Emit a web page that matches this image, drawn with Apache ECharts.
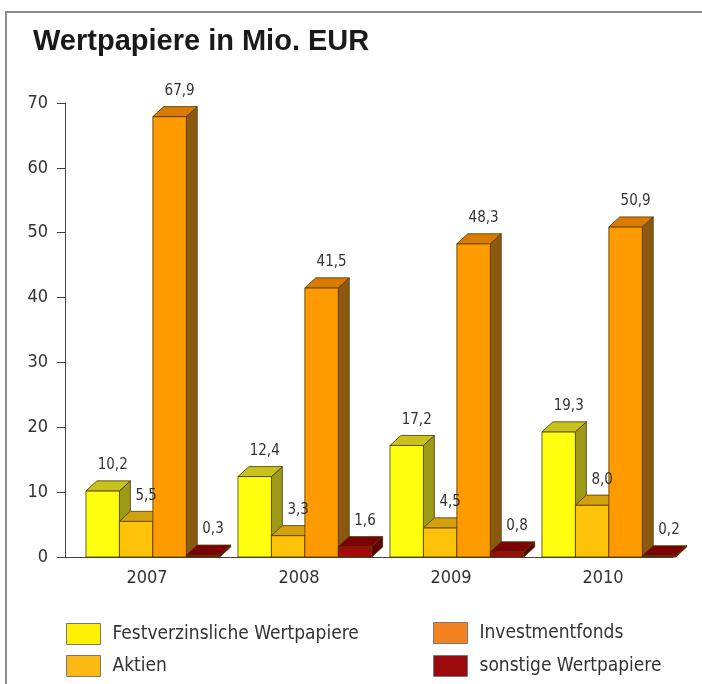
<!DOCTYPE html>
<html>
<head>
<meta charset="utf-8">
<script src="https://cdn.jsdelivr.net/npm/echarts@6/dist/echarts.min.js"></script>
<style>
  html, body { margin: 0; padding: 0; background: #fff; }
  #main { width: 702px; height: 684px; }
</style>
</head>
<body>
<div id="main"></div>
<script>
var years = ['2007', '2008', '2009', '2010']
var festverzinslich = [10.2, 12.4, 17.2, 19.3]
var aktien = [5.5, 3.3, 4.5, 8.0]
var investmentfonds = [67.9, 41.5, 48.3, 50.9]
var sonstige = [0.3, 1.6, 0.8, 0.2]
var yTicks = [0, 10, 20, 30, 40, 50, 60, 70]

var NARROW = "'Liberation Sans Narrow', 'DejaVu Sans Condensed', sans-serif"

// front / top / side colours per series
var faces = [
  { front: '#ffff10', top: '#c9c21c', side: '#9d9a1a', legend: '#fff200' },
  { front: '#ffc20a', top: '#d4a00c', side: '#a8800c', legend: '#fdb913' },
  { front: '#ff9a00', top: '#d97b00', side: '#8d5810', legend: '#f58220' },
  { front: '#a50808', top: '#7a0202', side: '#5a0000', legend: '#9d0a0e' }
]

function fmt(v) {
  return v.toFixed(1).replace('.', ',')
}

function makeRender(idx) {
  return function (params, api) {
    var cat = api.value(0)
    var val = api.value(1)
    var top = api.coord([cat, val])
    var base = api.coord([cat, 0])
    var band = api.size([1, 0])[0]
    var w = band * 0.22
    var dx = band * 0.072
    var dy = 10
    var x = top[0] - band * 0.362 + idx * w
    var y1 = top[1]
    var y0 = base[1]
    var f = faces[idx]
    var stroke = { stroke: '#4a3a00', lineWidth: 0.8 }
    return {
      type: 'group',
      children: [
        {
          type: 'polygon',
          shape: { points: [[x + w, y1], [x + w + dx, y1 - dy], [x + w + dx, y0 - dy], [x + w, y0]] },
          style: Object.assign({ fill: f.side }, stroke)
        },
        {
          type: 'rect',
          shape: { x: x, y: y1, width: w, height: y0 - y1 },
          style: Object.assign({ fill: f.front }, stroke)
        },
        {
          type: 'polygon',
          shape: { points: [[x, y1], [x + dx, y1 - dy], [x + w + dx, y1 - dy], [x + w, y1]] },
          style: Object.assign({ fill: f.top }, stroke)
        },
        {
          type: 'text',
          z2: 100,
          style: {
            text: fmt(val),
            x: x + w / 2 + 10,
            y: y1 - dy - 8,
            align: 'center',
            verticalAlign: 'bottom',
            fill: '#333',
            fontSize: 15,
            fontFamily: NARROW
          }
        }
      ]
    }
  }
}

function toData(arr) {
  return arr.map(function (v, i) { return [i, v] })
}

var names = ['Festverzinsliche Wertpapiere', 'Aktien', 'Investmentfonds', 'sonstige Wertpapiere']
var values = [festverzinslich, aktien, investmentfonds, sonstige]
var legendPos = [[66, 623], [66, 655], [433, 622], [433, 655]]

function legendItem(i) {
  return {
    left: legendPos[i][0],
    top: legendPos[i][1],
    padding: 0,
    icon: 'rect',
    itemWidth: 34,
    itemHeight: 21,
    data: [names[i]],
    itemStyle: { borderColor: '#777', borderWidth: 1 },
    textStyle: { fontFamily: NARROW, fontSize: 19, color: '#333', padding: [0, 0, 0, 7] }
  }
}

var chart = echarts.init(document.getElementById('main'))
chart.setOption({
  backgroundColor: '#fff',
  animation: false,
  title: {
    text: 'Wertpapiere in Mio. EUR',
    left: 28,
    top: 22,
    textStyle: {
      fontFamily: "'Liberation Sans', Arial, sans-serif",
      fontWeight: 'bold',
      fontSize: 29,
      color: '#1a1a1a'
    }
  },
  graphic: [{
    type: 'rect',
    shape: { x: 6, y: 12, width: 760, height: 720 },
    style: { fill: 'none', stroke: '#8c8c8c', lineWidth: 2 },
    silent: true
  }],
  legend: [legendItem(0), legendItem(1), legendItem(2), legendItem(3)],
  grid: {
    left: 65,
    top: 103,
    width: 608,
    height: 454,
    containLabel: false
  },
  xAxis: {
    type: 'category',
    data: years,
    axisLine: { lineStyle: { color: '#444', width: 1 } },
    axisTick: { show: false },
    axisLabel: {
      margin: 12,
      padding: [0, 0, 0, 12],
      fontFamily: NARROW,
      fontSize: 18,
      color: '#333'
    }
  },
  yAxis: {
    type: 'value',
    min: yTicks[0],
    max: yTicks[yTicks.length - 1],
    interval: 10,
    axisLine: { show: true, lineStyle: { color: '#444', width: 1 } },
    axisTick: { show: true, length: 8, lineStyle: { color: '#444' } },
    splitLine: { show: false },
    axisLabel: {
      margin: 17,
      fontFamily: NARROW,
      fontSize: 18,
      color: '#333'
    }
  },
  series: values.map(function (arr, i) {
    return {
      name: names[i],
      type: 'custom',
      renderItem: makeRender(i),
      itemStyle: { color: faces[i].legend },
      encode: { x: 0, y: 1 },
      data: toData(arr)
    }
  })
})
</script>
</body>
</html>
